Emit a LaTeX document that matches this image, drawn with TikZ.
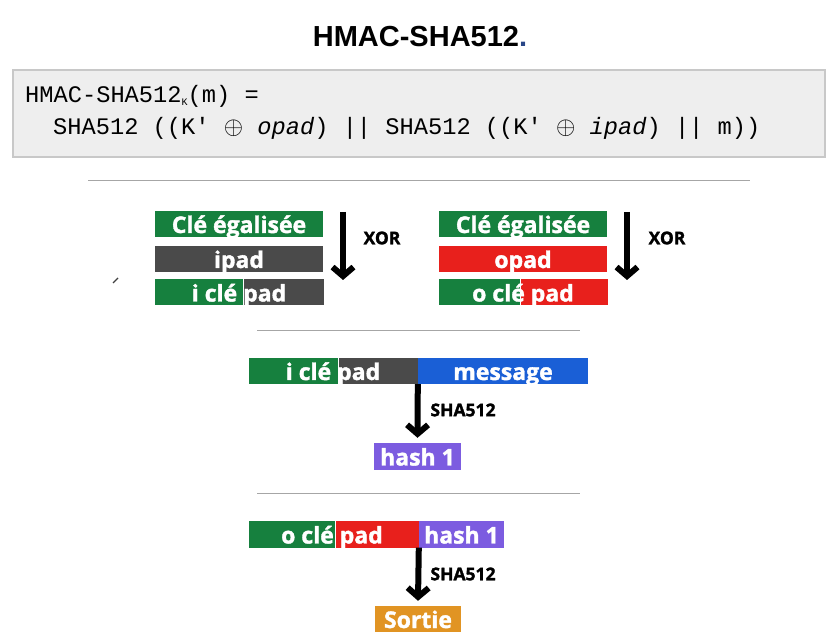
\documentclass[tikz,border=0pt]{standalone}
\usepackage{fontspec}
\setmainfont{Open Sans}
\newfontfamily\barfont{Open Sans}[BoldFeatures={FakeBold=1.6}]
\newfontfamily\titlefont{Liberation Sans}
\newfontfamily\codefont{Liberation Mono}
\usetikzlibrary{arrows.meta,positioning}
\definecolor{cgreen}{RGB}{22,128,62}
\definecolor{cdark}{RGB}{74,74,74}
\definecolor{cred}{RGB}{232,32,28}
\definecolor{cblue}{RGB}{26,95,214}
\definecolor{cpurple}{RGB}{124,92,224}
\definecolor{corange}{RGB}{225,148,35}
\definecolor{cdot}{RGB}{40,70,135}
\definecolor{codebg}{RGB}{238,238,238}
\definecolor{codeline}{RGB}{200,200,200}
\tikzset{
  bar/.style={inner sep=0pt, minimum height=26pt, text height=22pt, text depth=4pt,
    text=white, font=\barfont\fontsize{23}{23}\selectfont\bfseries},
  flow/.style={line width=6pt, -{Straight Barb[length=9pt,width=21pt]}},
  rule/.style={draw=gray!70, line width=1pt},
  lbl/.style={inner sep=0pt, font=\barfont\fontsize{17.5}{17.5}\selectfont\bfseries},
  code/.style={inner sep=0pt, anchor=west, font=\codefont\fontsize{23.7}{23.7}\selectfont}
}
\begin{document}
\begin{tikzpicture}[x=1pt,y=-1pt]
\useasboundingbox[fill=white] (0,0) rectangle (839,644);

% Title and formula
\node[font=\titlefont\fontsize{29}{29}\selectfont\bfseries] (title) at (420,37)
  {HMAC-SHA512\textcolor{cdot}{.}};
\node[draw=codeline, fill=codebg, line width=1.5pt, inner sep=0pt,
  minimum width=812pt, minimum height=87pt] (codebox) at (419,113.5) {};
\node[code] (code1) at (25,96)
  {HMAC-SHA512\raisebox{-3pt}{\fontsize{10}{10}\selectfont K}(m) =};
\node[code] (code2) at (53,128)
  {SHA512 ((K' $\oplus$ \textit{opad}) || SHA512 ((K' $\oplus$ \textit{ipad}) || m))};
\draw[rule] (88,181) -- (750,181);

% Inner key (ipad)
\node[bar, fill=cgreen, minimum width=168pt] (cleL) at (239,224) {Clé égalisée};
\node[bar, fill=cdark, minimum width=168pt] (ipad) at (239,259) {ipad};
\node[bar, fill=cgreen, minimum width=88pt, anchor=west] (iG) at (155,292.5) {};
\node[bar, fill=cdark, minimum width=80pt, anchor=west] (iD) at (iG.east) {};
\node[bar] (itxt) at (239,292.5) {i clé pad};
\coordinate (xorLa) at (343,212);
\coordinate (xorLb) at (343,280);
\draw[flow] (xorLa) -- (xorLb);
\node[lbl] (xorL) at (382,238) {XOR};
\draw[line width=1.2pt, gray!50!black] (113,283) -- (118,278);

% Outer key (opad)
\node[bar, fill=cgreen, minimum width=168pt] (cleR) at (523,224) {Clé égalisée};
\node[bar, fill=cred, minimum width=168pt] (opad) at (523,259) {opad};
\node[bar, fill=cgreen, minimum width=81pt, anchor=west] (oG) at (439,292.5) {};
\node[bar, fill=cred, minimum width=87pt, anchor=west] (oR) at (oG.east) {};
\node[bar] (otxt) at (523,292.5) {o clé pad};
\coordinate (xorRa) at (627,212);
\coordinate (xorRb) at (627,280);
\draw[flow] (xorRa) -- (xorRb);
\node[lbl] (xorR) at (667,238) {XOR};
\draw[rule] (257,331) -- (580,331);

% First hash
\node[bar, fill=cgreen, minimum width=89pt, anchor=west] (mG) at (249,371) {};
\node[bar, fill=cdark, minimum width=79pt, anchor=west] (mD) at (mG.east) {};
\node[bar, fill=cblue, minimum width=170pt, anchor=west] (mB) at (mD.east) {message};
\node[bar] (mtxt) at (333,371) {i clé pad};
\node[bar, fill=cpurple, minimum width=87pt, minimum height=27pt] (hashA) at (417.5,456.5) {hash 1};
\draw[flow] (mB.south west) -- ([yshift=5pt]hashA.north);
\node[lbl] (shaA) at (463,410) {SHA512};
\draw[rule] (257,494) -- (580,494);

% Second hash
\node[bar, fill=cgreen, minimum width=86pt, anchor=west] (nG) at (249,534.5) {};
\node[bar, fill=cred, minimum width=83pt, anchor=west] (nR) at (nG.east) {};
\node[bar, fill=cpurple, minimum width=85pt, anchor=west] (nP) at (nR.east) {hash 1};
\node[bar] (ntxt) at (332,534.5) {o clé pad};
\node[bar, fill=corange, minimum width=86pt] (sortie) at (418,619) {Sortie};
\draw[flow] (nP.south west) -- ([yshift=5pt]sortie.north);
\node[lbl] (shaB) at (463,574) {SHA512};
\end{tikzpicture}
\end{document}
